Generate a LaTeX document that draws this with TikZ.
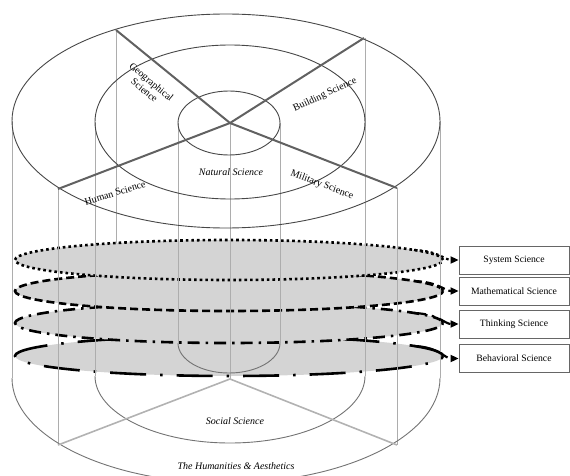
\documentclass[tikz,border=0pt]{standalone}
\usepackage{fontspec}
\setmainfont{Liberation Serif}
\usetikzlibrary{arrows.meta,calc}
\tikzset{
  rim/.style={draw=black!72, line width=0.9pt},
  spoke/.style={draw=black!62, line width=2pt},
  post/.style={draw=black!32, line width=0.9pt},
  basespoke/.style={draw=black!30, line width=1.6pt},
  disc/.style={draw=black, fill=black!17, line width=2.6pt},
  dotsty/.style={dash pattern=on 2.6pt off 3pt},
  dashsty/.style={dash pattern=on 8pt off 4pt},
  dashdotsty/.style={dash pattern=on 12pt off 6pt on 2.5pt off 6pt},
  longdashsty/.style={dash pattern=on 36pt off 14pt on 2.5pt off 14pt},
  lab/.style={font=\fontsize{10}{11}\selectfont, inner sep=0pt, align=center},
  ilab/.style={inner sep=0pt, font=\fontsize{10}{11}\selectfont\itshape},
  sbox/.style={draw=black!60, line width=0.9pt, minimum width=110pt, minimum height=28pt, inner sep=0pt, font=\fontsize{9.7}{11}\selectfont},
  tip/.style={-{Triangle[length=8pt,width=7pt]}, line width=2.2pt}
}
\begin{document}
\begin{tikzpicture}[x=1pt,y=-1pt]
\useasboundingbox (0,0) rectangle (570,476);
\clip (0,0) rectangle (570,476);
% back post
\draw[post] (116,30) -- (116,286);
% discs, bottom to top
\path[disc, longdashsty] (229,356) ellipse [x radius=214pt, y radius=20pt];
\path[disc, dashdotsty] (229,323) ellipse [x radius=214pt, y radius=20pt];
\path[disc, dashsty] (229,291) ellipse [x radius=214pt, y radius=20pt];
\path[disc, dotsty] (229,260) ellipse [x radius=214pt, y radius=20pt];
% front posts
\draw[post] (12,121) -- (12,378);
\draw[post] (440,121) -- (440,378);
\draw[post] (95,122) -- (95,376);
\draw[post] (365,38) -- (365,376);
\draw[post] (178,123) -- (178,343);
\draw[post] (280,123) -- (280,343);
\draw[post] (230,123) -- (230,379);
\draw[post] (58,189) -- (58,445);
\draw[post] (397,188) -- (397,445);
% bottom rims (front halves)
\draw[rim, draw=black!55] (12,378) arc[start angle=180, end angle=360, x radius=214pt, y radius=105pt];
\draw[rim, draw=black!55] (95,376) arc[start angle=180, end angle=360, x radius=135pt, y radius=67pt];
\draw[rim, draw=black!55] (178,343) arc[start angle=180, end angle=360, x radius=51pt, y radius=30pt];
% bottom spokes
\coordinate (bc) at (230,379);
\draw[basespoke] (58,445) -- (bc) -- (397,445);
% top rims
\draw[rim] (226,121) ellipse [x radius=214pt, y radius=107pt];
\draw[rim] (230,122) ellipse [x radius=135pt, y radius=77pt];
\draw[rim] (229,123) ellipse [x radius=51pt, y radius=32pt];
% top spokes
\coordinate (tc) at (230,123);
\draw[spoke] (116,30) -- (tc) -- (397,188);
\draw[spoke] (58,189) -- (tc) -- (364,38);
% labels
\node[lab, rotate=-40] (geo) at (148,86) {Geographical\\Science};
\node[lab, rotate=25] (bld) at (325,95) {Building Science};
\node[lab, rotate=17] (hum) at (115,193) {Human Science};
\node[lab, rotate=-21] (mil) at (322,185) {Military Science};
\node[ilab] (nat) at (231,172) {Natural Science};
\node[ilab] (soc) at (235,421) {Social Science};
\node[ilab] (hua) at (236,466) {The Humanities \& Aesthetics};
% boxes
\node[sbox] (sys) at (514,260) {System Science};
\node[sbox] (mat) at (514,291) {Mathematical Science};
\node[sbox] (thi) at (514,324) {Thinking Science};
\node[sbox] (beh) at (514,358.5) {Behavioral Science};
% arrows
\coordinate (s0) at (414,250);
\coordinate (m0) at (414,281);
\coordinate (t0) at (414,313);
\coordinate (b0) at (414,346);
\draw[tip, dotsty] (s0) .. controls +(25,1) and +(-14,0) .. (sys.west);
\draw[tip, dashsty] (m0) .. controls +(25,1) and +(-14,0) .. (mat.west);
\draw[tip, dashdotsty] (t0) .. controls +(25,1) and +(-14,0) .. (thi.west);
\draw[tip, longdashsty] (b0) .. controls +(25,1) and +(-14,0) .. (beh.west);
\end{tikzpicture}
\end{document}
